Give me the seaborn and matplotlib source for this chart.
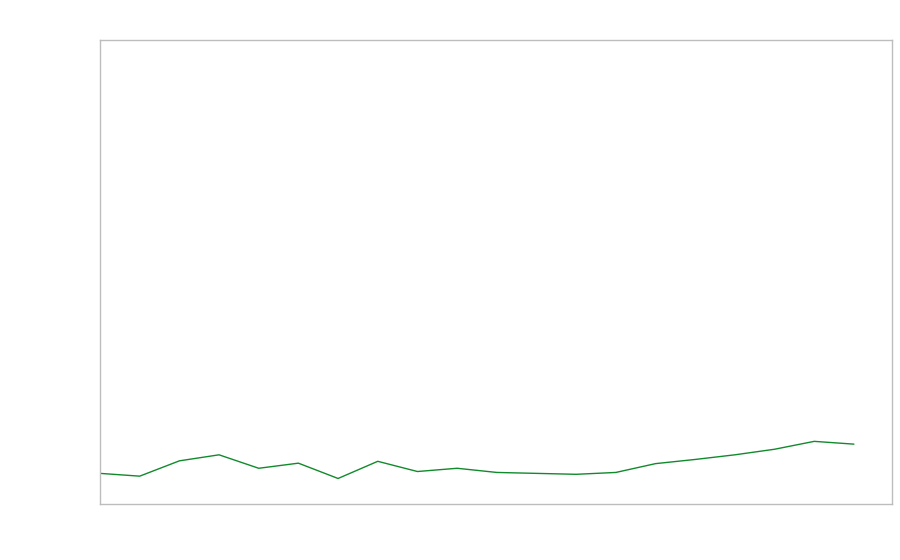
import matplotlib
matplotlib.use("Agg")
import matplotlib.pyplot as plt
import pandas as pd
import seaborn as sns

# values (axis assumed 0..100)
steps = list(range(20))
values = [6.6, 6.0, 9.3, 10.6, 7.7, 8.8, 5.5, 9.2, 7.0, 7.7,
          6.8, 6.6, 6.4, 6.8, 8.7, 9.6, 10.6, 11.8, 13.5, 12.9]

df = pd.DataFrame({"step": steps, "value": values})

sns.set_style("white")
fig = plt.figure(figsize=(9, 5.6), dpi=100)
ax = fig.add_axes([100 / 900, 56 / 560, 792 / 900, 464 / 560])

sns.lineplot(data=df, x="step", y="value", color="#118a2c", linewidth=1, ax=ax)

ax.set_xlim(0, 19.96)
ax.set_ylim(0, 100)
ax.set_xticks([])
ax.set_yticks([])
ax.set_xlabel("")
ax.set_ylabel("")
for s in ax.spines.values():
    s.set_color("#bdbdbd")
    s.set_linewidth(1)

fig.savefig("out.png", dpi=100)
